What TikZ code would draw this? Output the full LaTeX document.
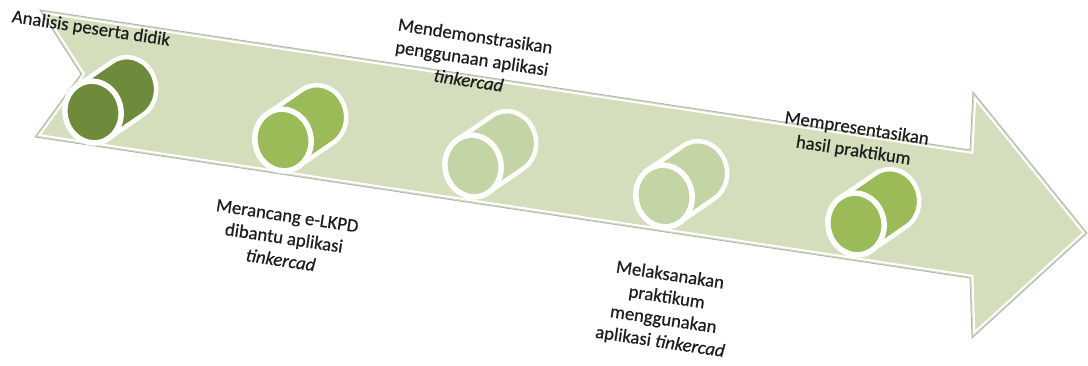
\documentclass[tikz,border=0pt]{standalone}
\usepackage{fontspec}
\setmainfont{Carlito}
\newfontfamily\lblfont{Carlito}[FakeBold=0.6]
\definecolor{arrowbg}{HTML}{D4DEBD}
\definecolor{cylA}{HTML}{6E8A3B}
\definecolor{cylB}{HTML}{9BBB59}
\definecolor{cylC}{HTML}{C3D4A5}
\definecolor{txt}{HTML}{1E1E1E}
\tikzset{
  lbl/.style={font=\lblfont\fontsize{18.7}{22.5}\selectfont, text=txt, align=center, rotate=-8.6, inner sep=0pt},
  cylbody/.style={draw=white, line width=4.5pt, line join=round},
  cylface/.style={draw=white, line width=5.5pt},
  arrowout/.style={draw=black!30, line width=0.8pt, line join=miter},
}
\newcommand\mycyl[3]{%
  \begin{scope}[shift={(#1,#2)}, rotate=12]
    \filldraw[cylbody, fill=#3] ([shift={(39.2,-16.2)}]249.5:28 and 31)
      arc[start angle=249.5, end angle=429.5, x radius=28, y radius=31]
      -- ++(-39.2,16.2)
      arc[start angle=69.5, end angle=249.5, x radius=28, y radius=31] -- cycle;
    \filldraw[cylface, fill=#3] (0,0) ellipse[x radius=28, y radius=31];
  \end{scope}}
\begin{document}
\begin{tikzpicture}[x=1pt, y=-1pt]
\useasboundingbox (0,0) rectangle (1088,365);
\coordinate (A) at (40,10);
\coordinate (N) at (81,74);
\coordinate (C) at (35,137);
\coordinate (D) at (970,278);
\coordinate (E) at (972,338);
\coordinate (T) at (1087,233);
\coordinate (G) at (973,92);
\coordinate (H) at (970,150);
\fill[arrowbg] (A)--(H)--(G)--(T)--(E)--(D)--(C)--(N)--cycle;
\begin{scope}
  \clip (A)--(H)--(G)--(T)--(E)--(D)--(C)--(N)--cycle;
  \draw[white, line width=7pt, line join=miter] (A)--(H)--(G)--(T)--(E)--(D)--(C)--(N)--cycle;
  \draw[arrowbg, line width=3pt, line join=miter] (A)--(H)--(G)--(T)--(E)--(D)--(C)--(N)--cycle;
\end{scope}
\draw[arrowout] (A)--(H)--(G)--(T)--(E)--(D)--(C)--(N)--cycle;

\mycyl{93}{112}{cylA}
\mycyl{283}{140}{cylB}
\mycyl{473}{166}{cylC}
\mycyl{664}{196}{cylC}
\mycyl{856}{224}{cylB}

\node[lbl] (l1) at (91,29) {Analisis peserta didik};
\node[lbl] (l2) at (472,58) {Mendemonstrasikan\\penggunaan aplikasi\\\textit{tinkercad}};
\node[lbl] (l3) at (284,238) {Merancang e-LKPD\\dibantu aplikasi\\\textit{tinkercad}};
\node[lbl] (l4) at (665,309) {Melaksanakan\\praktikum\\menggunakan\\aplikasi \textit{tinkercad}};
\node[lbl] (l5) at (855,140) {Mempresentasikan\\hasil praktikum};
\end{tikzpicture}
\end{document}
